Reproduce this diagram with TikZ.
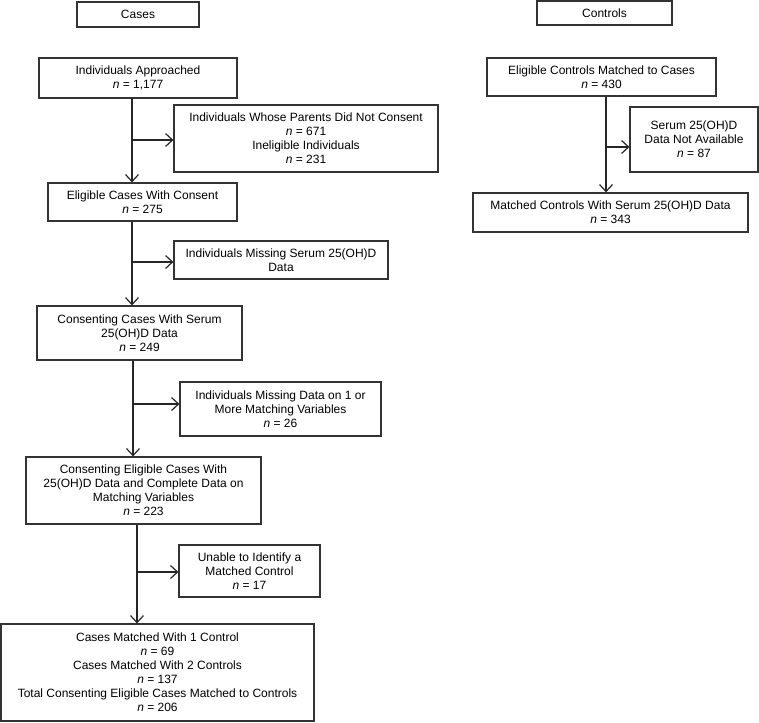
\documentclass[tikz,border=0pt]{standalone}
\usepackage{fontspec}
\setmainfont{Liberation Sans}
\usetikzlibrary{arrows.meta}
\begin{document}
\begin{tikzpicture}[x=1pt,y=-1pt,
 box/.style={draw=black!80, line width=1.2pt, fill=white, align=center, inner sep=0pt, font=\fontsize{12}{14}\selectfont},
 arr/.style={draw=black!85, line width=1.2pt, -{Straight Barb[length=7pt,width=13pt]}}]
\useasboundingbox (0,0) rectangle (759,722);
\newcommand\nn[1]{\textit{n} = #1}
% headers
\node[box, minimum width=122pt, minimum height=25pt] (cases) at (138,14.5) {Cases};
\node[box, minimum width=135pt, minimum height=24pt] (controls) at (604.5,13) {Controls};
% cases column
\node[box, minimum width=198pt, minimum height=40pt] (app) at (138,78) {Individuals Approached\\\nn{1,177}};
\node[box, minimum width=264pt, minimum height=67pt] (ex1) at (306,138.5) {Individuals Whose Parents Did Not Consent\\\nn{671}\\Ineligible Individuals\\\nn{231}};
\node[box, minimum width=189pt, minimum height=38pt] (elig) at (142.5,202) {Eligible Cases With Consent\\\nn{275}};
\node[box, minimum width=214pt, minimum height=38pt] (ex2) at (281,260) {Individuals Missing Serum 25(OH)D\\Data};
\node[box, minimum width=205pt, minimum height=54pt] (cons) at (139.5,333) {Consenting Cases With Serum\\25(OH)D Data\\\nn{249}};
\node[box, minimum width=201pt, minimum height=54pt] (ex3) at (280.5,409) {Individuals Missing Data on 1 or\\More Matching Variables\\\nn{26}};
\node[box, minimum width=235pt, minimum height=67pt] (cec) at (143.5,490.5) {Consenting Eligible Cases With\\25(OH)D Data and Complete Data on\\Matching Variables\\\nn{223}};
\node[box, minimum width=141pt, minimum height=52pt] (ex4) at (249.5,571) {Unable to Identify a\\Matched Control\\\nn{17}};
\node[box, minimum width=313pt, minimum height=97pt] (fin) at (157.5,672.5) {Cases Matched With 1 Control\\\nn{69}\\Cases Matched With 2 Controls\\\nn{137}\\Total Consenting Eligible Cases Matched to Controls\\\nn{206}};
% controls column
\node[box, minimum width=229pt, minimum height=38pt] (c1) at (601.5,77) {Eligible Controls Matched to Cases\\\nn{430}};
\node[box, minimum width=128pt, minimum height=65pt] (c2) at (694,139.5) {Serum 25(OH)D\\Data Not Available\\\nn{87}};
\node[box, minimum width=275pt, minimum height=39pt] (c3) at (610.5,212.5) {Matched Controls With Serum 25(OH)D Data\\\nn{343}};
% spine coordinates
\coordinate (s1) at (132,0);
\coordinate (s3) at (133,0);
\coordinate (s4) at (137,0);
\coordinate (sc) at (606,0);
\coordinate (b1) at (132,140);
\coordinate (b2) at (132,262);
\coordinate (b3) at (133,404);
\coordinate (b4) at (137,572);
\coordinate (bc) at (606,147);
% vertical flows
\draw[arr] (app.south -| s1) -- (elig.north -| s1);
\draw[arr] (elig.south -| s1) -- (cons.north -| s1);
\draw[arr] (cons.south -| s3) -- (cec.north -| s3);
\draw[arr] (cec.south -| s4) -- (fin.north -| s4);
\draw[arr] (c1.south -| sc) -- (c3.north -| sc);
% branches
\draw[arr] (b1) -- (b1 -| ex1.west);
\draw[arr] (b2) -- (b2 -| ex2.west);
\draw[arr] (b3) -- (b3 -| ex3.west);
\draw[arr] (b4) -- (b4 -| ex4.west);
\draw[arr] (bc) -- (bc -| c2.west);
\end{tikzpicture}
\end{document}
